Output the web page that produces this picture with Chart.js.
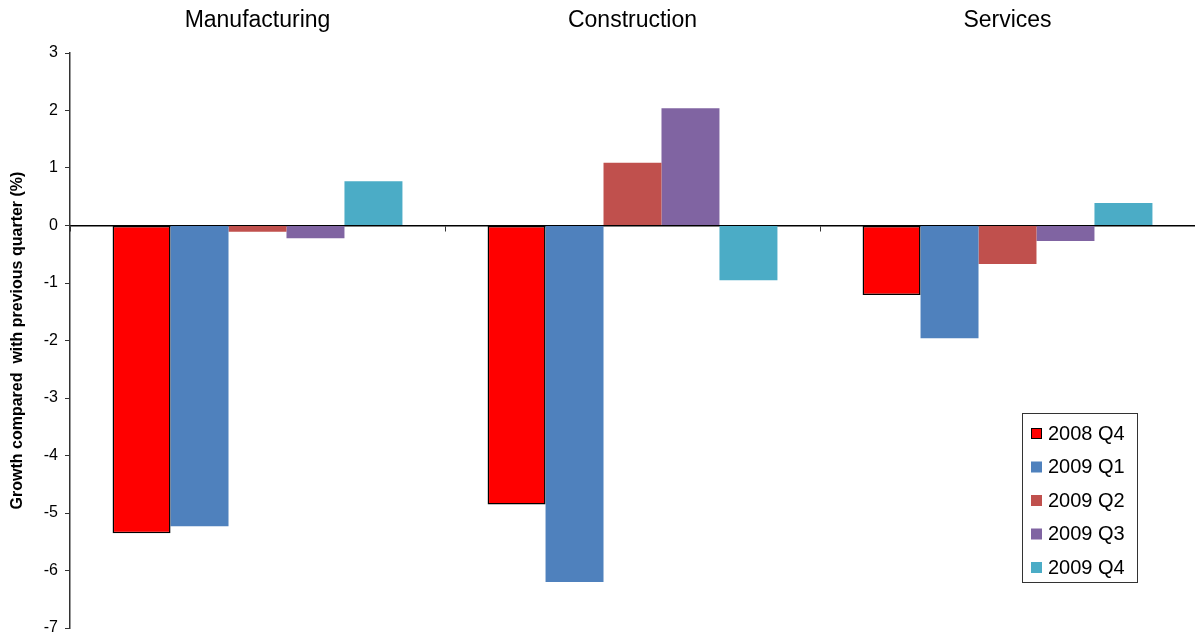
<!DOCTYPE html>
<html>
<head>
<meta charset="utf-8">
<script src="https://cdn.jsdelivr.net/npm/chart.js@4/dist/chart.umd.min.js"></script>
<style>
  html, body { margin: 0; padding: 0; background: #fff; }
  #wrap { width: 1195px; height: 636px; }
</style>
</head>
<body>
<div id="wrap"><canvas id="growthChart"></canvas></div>
<script>
const sectors = ["Manufacturing", "Construction", "Services"];
const quarters = ["2008 Q4", "2009 Q1", "2009 Q2", "2009 Q3", "2009 Q4"];
const q4_2008 = [-5.35, -4.85, -1.21];
const q1_2009 = [-5.23, -6.2, -1.96];
const q2_2009 = [-0.11, 1.09, -0.67];
const q3_2009 = [-0.22, 2.04, -0.27];
const q4_2009 = [0.77, -0.95, 0.39];
const yTicks = [3, 2, 1, 0, -1, -2, -3, -4, -5, -6, -7];

const colors = ["#ff0000", "#4f81bd", "#c0504d", "#8064a2", "#4bacc6"];
const series = [q4_2008, q1_2009, q2_2009, q3_2009, q4_2009];

const FONT = "'Liberation Sans', Arial, sans-serif";

// legend box drawn inside the plot, lower right
const boxLegend = {
  id: "boxLegend",
  afterDraw(chart) {
    const ctx = chart.ctx;
    const x = 1022, y = 413, w = 115, h = 169;
    ctx.save();
    ctx.fillStyle = "#fff";
    ctx.fillRect(x, y, w, h);
    ctx.strokeStyle = "#333";
    ctx.lineWidth = 1;
    ctx.strokeRect(x + 0.5, y + 0.5, w, h);
    ctx.font = "20px " + FONT;
    ctx.textBaseline = "middle";
    chart.data.datasets.forEach((ds, i) => {
      const cy = y + 20 + i * 33.5;
      ctx.fillStyle = ds.backgroundColor;
      ctx.fillRect(x + 9, cy - 5, 11, 11);
      if (i === 0) {
        ctx.strokeStyle = "#000";
        ctx.strokeRect(x + 9.5, cy - 4.5, 10, 10);
      }
      ctx.fillStyle = "#000";
      ctx.fillText(ds.label, x + 26, cy + 1);
    });
    ctx.restore();
  }
};

new Chart(document.getElementById("growthChart"), {
  type: "bar",
  data: {
    labels: sectors,
    datasets: quarters.map((q, i) => ({
      label: q,
      data: series[i],
      backgroundColor: colors[i],
      borderColor: i === 0 ? "#000" : colors[i],
      borderWidth: i === 0 ? 1.5 : 0,
      borderSkipped: false,
      categoryPercentage: 0.773,
      barPercentage: 1
    }))
  },
  options: {
    responsive: true,
    maintainAspectRatio: false,
    animation: false,
    layout: { padding: { top: 0, right: 0, bottom: 8, left: 0 } },
    plugins: {
      legend: { display: false },
      tooltip: { enabled: false }
    },
    scales: {
      x: {
        position: "top",
        grid: { display: false, drawTicks: false },
        border: { display: false },
        ticks: { color: "#000", font: { family: FONT, size: 23 }, padding: 19 },
        afterFit: (s) => { s.height = 53; s.paddingLeft = 0; s.paddingRight = 0; }
      },
      x2: {
        type: "category",
        position: { y: 0 },
        grid: { offset: true, drawOnChartArea: false, tickLength: 5, color: "#333" },
        border: { color: "#000", width: 1.5 },
        ticks: { display: false }
      },
      y: {
        min: -7,
        max: 3,
        afterBuildTicks: (s) => { s.ticks = yTicks.map((v) => ({ value: v })); },
        grid: { drawOnChartArea: false, tickLength: 5, color: "#333" },
        border: { color: "#333", width: 1.5 },
        ticks: { color: "#000", font: { family: FONT, size: 16 }, padding: 7 },
        title: {
          display: true,
          text: "Growth compared  with previous quarter (%)",
          color: "#000",
          font: { family: FONT, size: 16, weight: "bold" },
          padding: { top: 8, bottom: 6 }
        },
        afterFit: (s) => { s.width = 70; s.paddingTop = 0; s.paddingBottom = 0; }
      }
    }
  },
  plugins: [boxLegend]
});
</script>
</body>
</html>
